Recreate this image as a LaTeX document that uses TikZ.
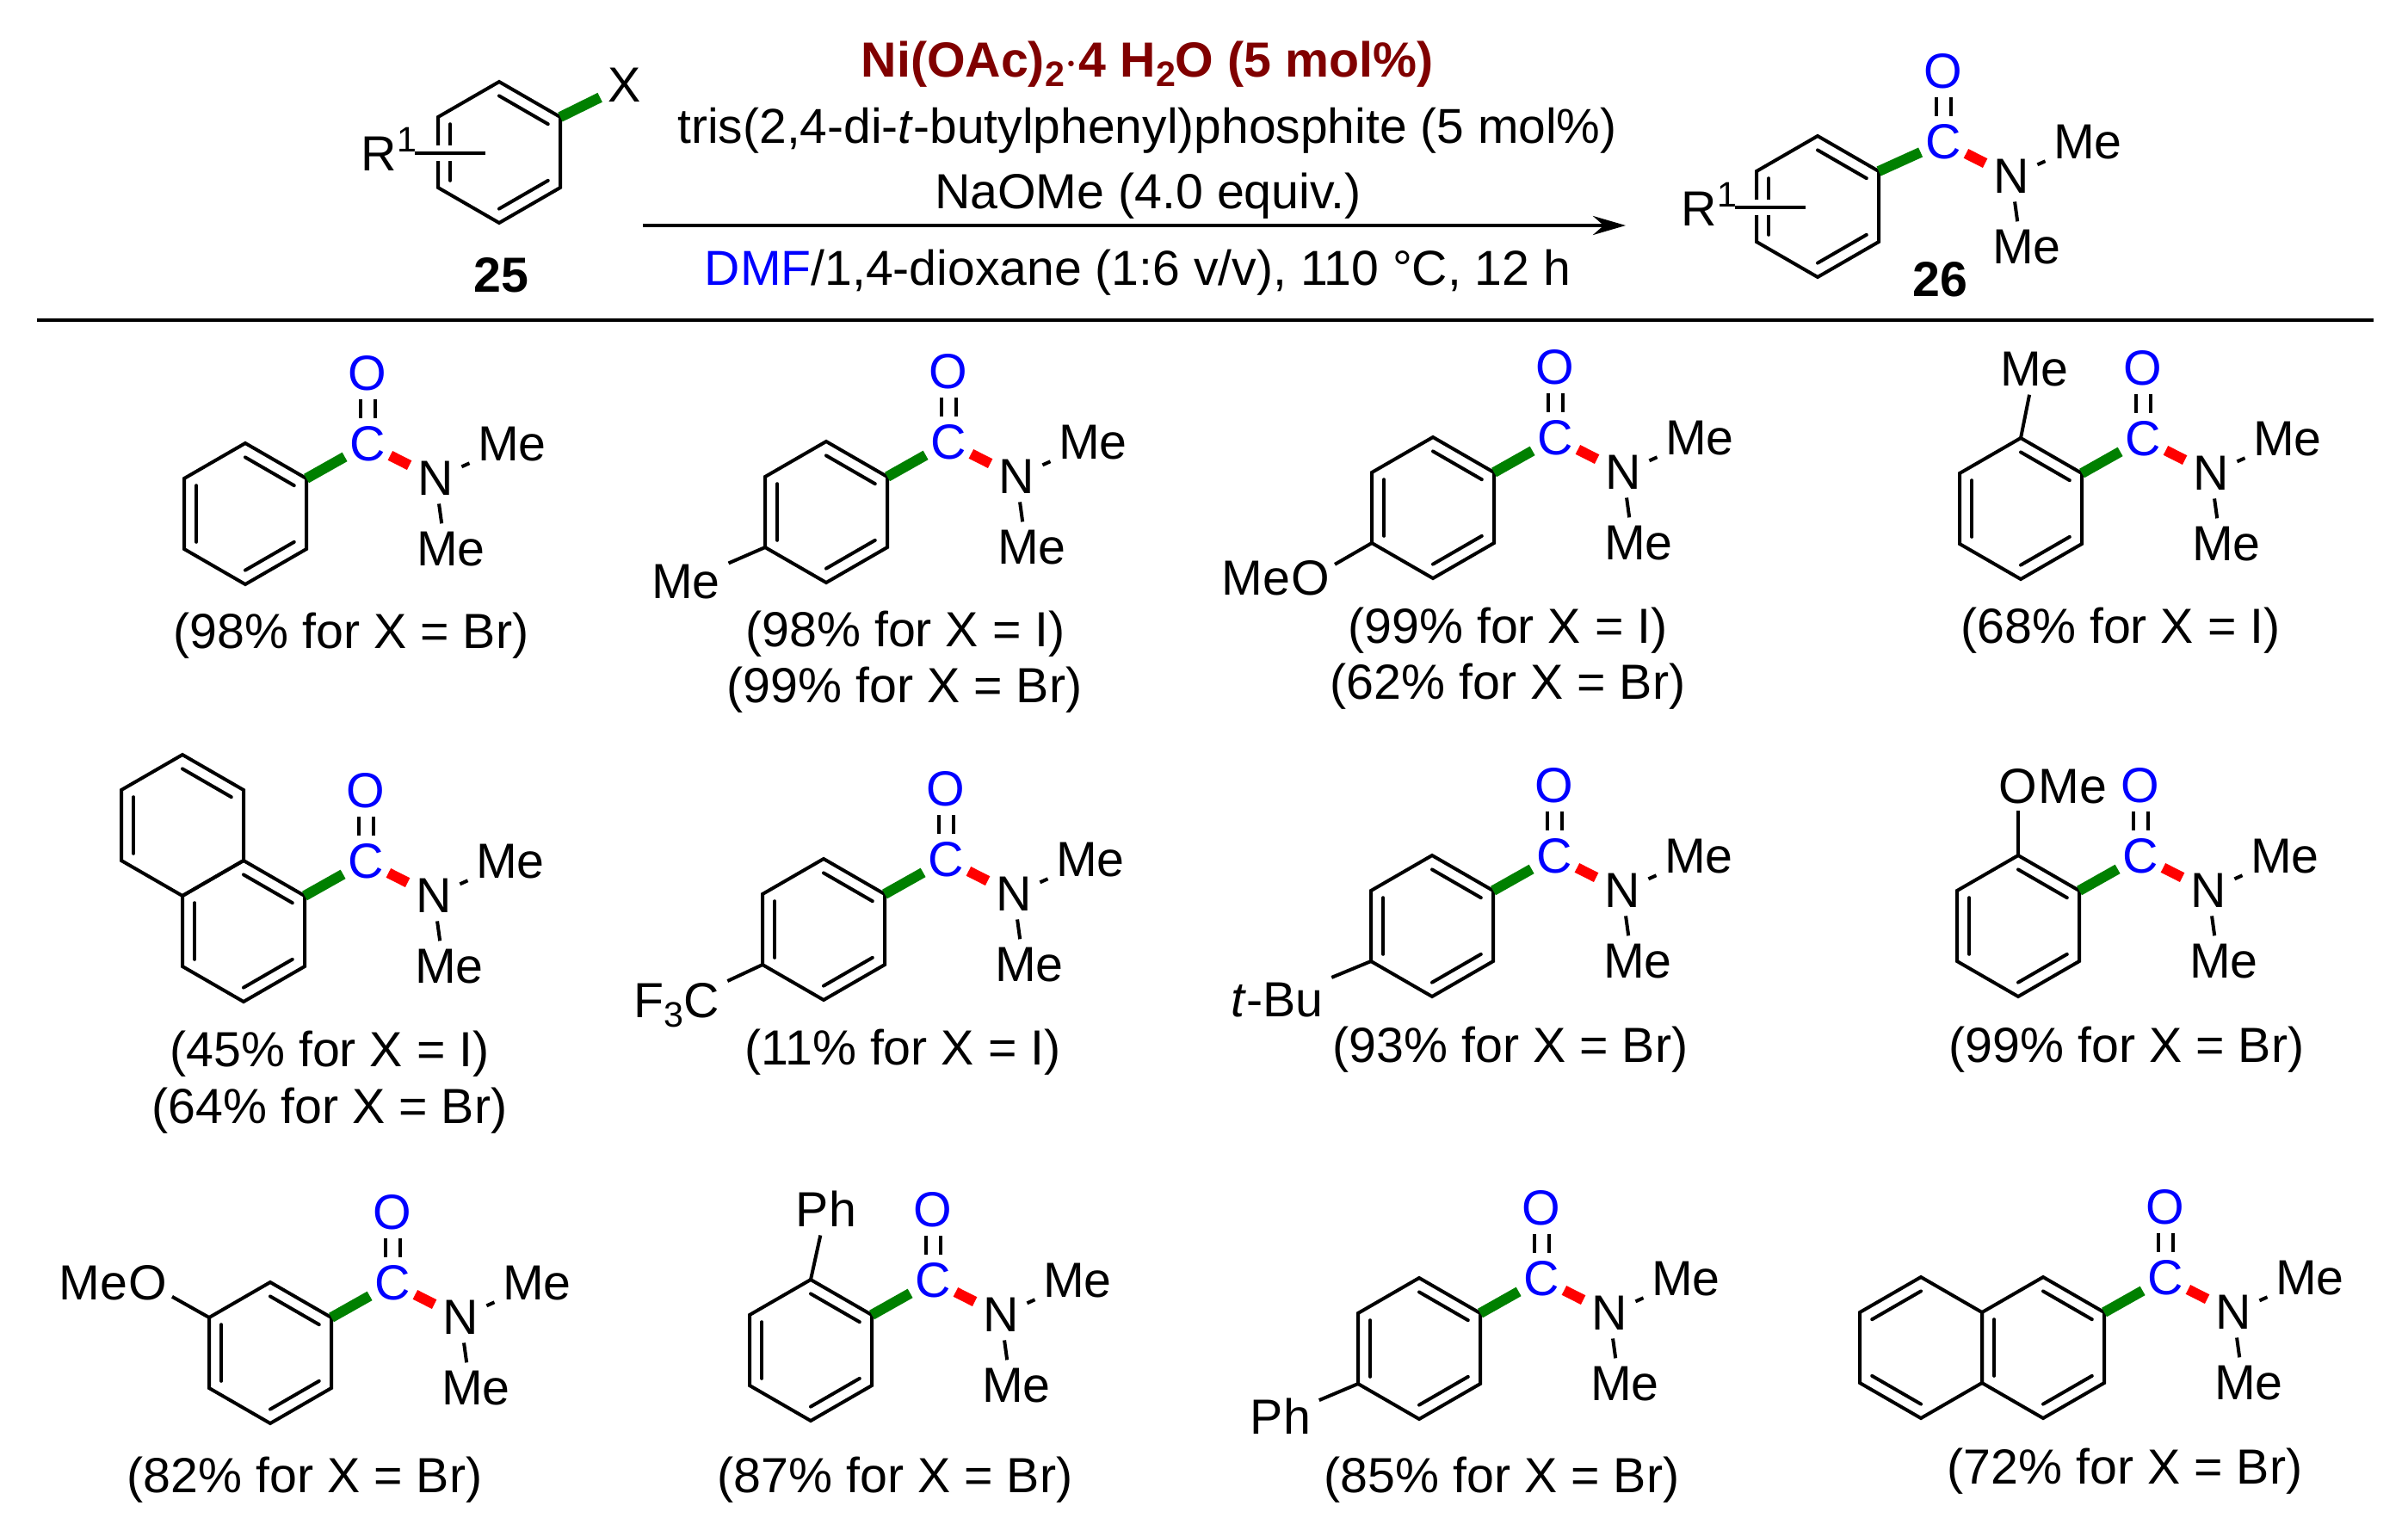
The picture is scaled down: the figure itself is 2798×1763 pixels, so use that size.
\documentclass[tikz,border=0pt]{standalone}
\usepackage{fontspec}
\setmainfont{Liberation Sans}
\usepackage{tikz}
\usetikzlibrary{arrows.meta,calc,positioning}

\definecolor{bondgreen}{RGB}{0,128,0}
\definecolor{catred}{RGB}{128,0,0}

\tikzset{x=0.01cm,y=-0.01cm,
  bond/.style={line width=0.04cm,line join=miter},
  inner bond/.style={line width=0.04cm,line cap=round},
  green bond/.style={line width=0.12cm,draw=bondgreen},
  red bond/.style={line width=0.12cm,draw=red},
  co bond/.style={line width=0.04cm,double,double distance=0.13cm},
  atom node/.style={inner sep=0.09cm,font=\fontsize{16.3}{20}\selectfont},
  blue node/.style={atom node,text=blue},
  yield node/.style={inner sep=0pt,anchor=base,font=\fontsize{16.3}{20}\selectfont}}

\newcommand{\lowtwo}[1]{\raisebox{-.11cm}{\fontsize{11.7}{12}\selectfont #1}}
\newcommand{\hightwo}[1]{\raisebox{.21cm}{\fontsize{11.7}{12}\selectfont #1}}

%hexagon, corner 1 on top, clockwise%
\newcommand{\ringat}[3]{
  \begin{scope}[shift={(#2,#3)},name prefix=#1]
    \coordinate (c) at (0,0);
    \coordinate (1) at (0,-82);
    \coordinate (2) at (71,-41);
    \coordinate (3) at (71,41);
    \coordinate (4) at (0,82);
    \coordinate (5) at (-71,41);
    \coordinate (6) at (-71,-41);
    \draw[bond] (1) -- (2) -- (3) -- (4) -- (5) -- (6) -- cycle;
  \end{scope}}
\newcommand{\innerline}[3]{
  \draw[inner bond] ($(#1c)!.8!(#1#2)$) -- ($(#1c)!.8!(#1#3)$);}

%C(O)NMe2 with its C at #2,#3%
\newcommand{\amide}[3]{
  \begin{scope}[shift={(#2,#3)},name prefix=#1]
    \node[blue node,inner xsep=0.05cm] (C) at (0,0) {C};
    \node[blue node] (O) at (0,-82) {O};
    \node[atom node] (N) at (79,40) {N};
    \node[atom node] (Me) at (168,0) {Me};
    \node[atom node] (Mf) at (97,122) {Me};
    \draw[co bond] (O) -- (O|-C.north);
    \draw[red bond] (C) -- (N);
    \draw[bond] (N) -- (Me);
    \draw[bond] (N) -- (Mf.110);
  \end{scope}}

\newcommand{\benzamide}[3]{
  \ringat{#1}{#2-142}{#3+81}
  \innerline{#1}{1}{2}
  \innerline{#1}{3}{4}
  \innerline{#1}{5}{6}
  \amide{#1}{#2}{#3}
  \draw[green bond] (#12) -- (#1C);}

\begin{document}
\begin{tikzpicture}
  \useasboundingbox (0,0) rectangle (2798,1763);

  %substrate 25%
  \ringat{s}{580}{177}
  \innerline{s}{1}{2}
  \innerline{s}{3}{4}
  \innerline{s}{5}{6}
  \node[atom node] (sX) at (726,99) {X};
  \draw[green bond] (s2) -- (sX);
  \node[yield node,anchor=base west] (sR) at (419,198) {R\hightwo{1}};
  \coordinate (sRend) at (564,178);
  \draw[white,line width=0.18cm] (482,178) -- (sRend);
  \draw[bond] (482,178) -- (sRend);
  \node[yield node,font=\fontsize{16.3}{20}\selectfont\bfseries] (s25) at (582,339) {25};

  %conditions%
  \node[yield node,text=catred,font=\fontsize{16.3}{20}\selectfont\bfseries] (cat) at (1333,89) {Ni(OAc)\lowtwo{2}$\cdot$4 H\lowtwo{2}O (5 mol\%)};
  \node[yield node,font=\fontsize{16.2}{20}\selectfont] (lig) at (1333,166) {tris(2,4-di-\textit{t}-butylphenyl)phosphite (5 mol\%)};
  \node[yield node] (base) at (1334,242) {NaOMe (4.0 equiv.)};
  \node[yield node,font=\fontsize{16.25}{20}\selectfont] (solv) at (1322,331) {\textcolor{blue}{DMF}/1,4-dioxane (1:6 v/v), 110 °C, 12 h};
  \coordinate (arrowa) at (747,262);
  \coordinate (arrowb) at (1889,262);
  \draw[bond,-{Stealth[length=0.38cm,width=0.22cm]}] (arrowa) -- (arrowb);

  %product 26%
  \ringat{p}{2112}{240}
  \innerline{p}{1}{2}
  \innerline{p}{3}{4}
  \innerline{p}{5}{6}
  \amide{p}{2258}{165}
  \draw[green bond] (p2) -- (pC);
  \node[yield node,anchor=base west] (pR) at (1953,262) {R\hightwo{1}};
  \coordinate (pRend) at (2098,241);
  \draw[white,line width=0.18cm] (2016,241) -- (pRend);
  \draw[bond] (2016,241) -- (pRend);
  \node[yield node,font=\fontsize{16.3}{20}\selectfont\bfseries] (p26) at (2254,344) {26};

  \coordinate (rulea) at (43,372);
  \coordinate (ruleb) at (2758,372);
  \draw[bond] (rulea) -- (ruleb);

  %first row%
  \benzamide{a}{427}{516}
  \node[yield node] (ya) at (408,753) {(98\% for X = Br)};

  \benzamide{b}{1102}{514}
  \node[atom node] (bsub) at (797,676) {Me};
  \draw[bond] (b5) -- (bsub);
  \node[yield node] (yb) at (1052,751) {(98\% for X = I)};
  \node[yield node] (yB) at (1051,816) {(99\% for X = Br)};

  \benzamide{c}{1807}{509}
  \node[atom node,inner sep=0.05cm] (csub) at (1523,672) {O};
  \node[atom node,base left=-.14cm of csub] (cme) {Me};
  \draw[bond] (c5) -- (csub);
  \node[yield node] (yc) at (1752,747) {(99\% for X = I)};
  \node[yield node] (yC) at (1752,812) {(62\% for X = Br)};

  \benzamide{d}{2490}{510}
  \node[atom node] (dsub) at (2364,429) {Me};
  \draw[bond] (d1) -- (dsub);
  \node[yield node] (yd) at (2464,747) {(68\% for X = I)};

  %second row%
  \benzamide{e}{425}{1001}
  \ringat{f}{212}{959}
  \innerline{f}{1}{2}
  \innerline{f}{5}{6}
  \node[yield node] (ye) at (383,1239) {(45\% for X = I)};
  \node[yield node] (yE) at (383,1305) {(64\% for X = Br)};

  \benzamide{g}{1099}{999}
  \node[atom node,anchor=base] (gsub) at (786,1182) {F\lowtwo{3}C};
  \draw[bond] (g5) -- (gsub);
  \node[yield node] (yg) at (1049,1237) {(11\% for X = I)};

  \benzamide{h}{1806}{995}
  \node[atom node] (hsub) at (1484,1162) {\textit{t}-Bu};
  \draw[bond] (h5) -- (hsub);
  \node[yield node] (yh) at (1755,1234) {(93\% for X = Br)};

  \benzamide{i}{2487}{995}
  \node[atom node,inner sep=0.07cm] (isub) at (2345,914) {O};
  \node[atom node,base right=-.16cm of isub] (ime) {Me};
  \draw[bond] (i1) -- (isub);
  \node[yield node] (yi) at (2471,1234) {(99\% for X = Br)};

  %third row%
  \benzamide{j}{456}{1491}
  \node[atom node,inner sep=0.05cm] (jsub) at (172,1491) {O};
  \node[atom node,base left=-.14cm of jsub] (jme) {Me};
  \draw[bond] (j6) -- (jsub);
  \node[yield node] (yj) at (354,1734) {(82\% for X = Br)};

  \benzamide{k}{1084}{1488}
  \node[atom node] (ksub) at (960,1405) {Ph};
  \draw[bond] (k1) -- (ksub);
  \node[yield node] (yk) at (1040,1734) {(87\% for X = Br)};

  \benzamide{l}{1791}{1486}
  \node[atom node] (lsub) at (1488,1646) {Ph};
  \draw[bond] (l5) -- (lsub);
  \node[yield node] (yl) at (1745,1734) {(85\% for X = Br)};

  \benzamide{m}{2516}{1485}
  \ringat{n}{2232}{1566}
  \innerline{n}{1}{6}
  \innerline{n}{4}{5}
  \node[yield node] (ym) at (2469,1724) {(72\% for X = Br)};
\end{tikzpicture}
\end{document}
